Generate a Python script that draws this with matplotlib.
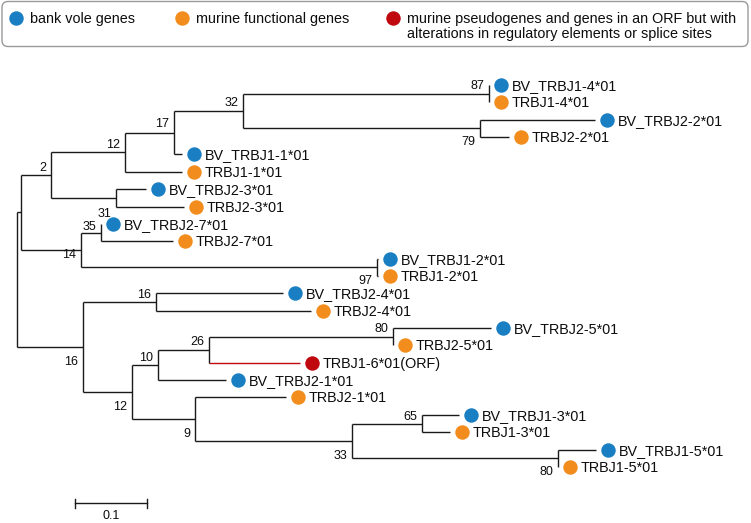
import matplotlib
matplotlib.use("Agg")
import matplotlib.pyplot as plt
from matplotlib.patches import FancyBboxPatch

plt.rcParams['font.family'] = ['Liberation Sans', 'DejaVu Sans']

# ---------------- data ----------------
leaf_names = ["BV_TRBJ1-4*01", "TRBJ1-4*01", "BV_TRBJ2-2*01", "TRBJ2-2*01",
              "BV_TRBJ1-1*01", "TRBJ1-1*01", "BV_TRBJ2-3*01", "TRBJ2-3*01",
              "BV_TRBJ2-7*01", "TRBJ2-7*01", "BV_TRBJ1-2*01", "TRBJ1-2*01",
              "BV_TRBJ2-4*01", "TRBJ2-4*01", "BV_TRBJ2-5*01", "TRBJ2-5*01",
              "TRBJ1-6*01(ORF)", "BV_TRBJ2-1*01", "TRBJ2-1*01",
              "BV_TRBJ1-3*01", "TRBJ1-3*01", "BV_TRBJ1-5*01", "TRBJ1-5*01"]
leaf_groups = ["bv", "mf", "bv", "mf", "bv", "mf", "bv", "mf", "bv", "mf", "bv", "mf",
               "bv", "mf", "bv", "mf", "ps", "bv", "mf", "bv", "mf", "bv", "mf"]

edge_child = ["A", "N2", "N12", "N17", "N32", "N87", "BV_TRBJ1-4*01", "TRBJ1-4*01",
              "N79", "BV_TRBJ2-2*01", "TRBJ2-2*01", "BV_TRBJ1-1*01", "TRBJ1-1*01",
              "N23", "BV_TRBJ2-3*01", "TRBJ2-3*01", "N14", "N27", "BV_TRBJ2-7*01",
              "TRBJ2-7*01", "N97", "BV_TRBJ1-2*01", "TRBJ1-2*01",
              "B", "N24", "BV_TRBJ2-4*01", "TRBJ2-4*01", "C12", "N10", "N26", "N80a",
              "BV_TRBJ2-5*01", "TRBJ2-5*01", "TRBJ1-6*01(ORF)", "BV_TRBJ2-1*01",
              "N9", "TRBJ2-1*01", "N33", "N65", "BV_TRBJ1-3*01", "TRBJ1-3*01",
              "N80b", "BV_TRBJ1-5*01", "TRBJ1-5*01"]
edge_parent = ["root", "A", "N2", "N12", "N17", "N32", "N87", "N87",
               "N32", "N79", "N79", "N17", "N12",
               "N2", "N23", "N23", "A", "N14", "N27",
               "N27", "N14", "N97", "N97",
               "root", "B", "N24", "N24", "B", "C12", "N10", "N26",
               "N80a", "N80a", "N26", "N10",
               "C12", "N9", "N9", "N33", "N65", "N65",
               "N33", "N80b", "N80b"]
edge_length = [0.0056, 0.0417, 0.1028, 0.0681, 0.0958, 0.3417, 0.0, 0.0,
               0.3292, 0.1597, 0.0403, 0.0111, 0.0792,
               0.0903, 0.0417, 0.0944, 0.0833, 0.0278, 0.0,
               0.1000, 0.4111, 0.0014, 0.0014,
               0.0917, 0.1014, 0.1764, 0.2153, 0.0681, 0.0361, 0.0708, 0.2556,
               0.1361, 0.0, 0.1264, 0.0944,
               0.0875, 0.1264, 0.2181, 0.0972, 0.0514, 0.0389,
               0.2861, 0.0528, 0.0]

support_nodes = ["N87", "N79", "N32", "N17", "N12", "N2", "N23", "N27", "N14", "N97",
                 "N24", "B", "N26", "N10", "C12", "N9", "N33", "N80a", "N65", "N80b"]
support_values = [87, 79, 32, 17, 12, 2, 31, 35, 14, 97,
                  16, 16, 26, 10, 12, 9, 33, 80, 65, 80]

legend_labels = ["bank vole genes", "murine functional genes",
                 "murine pseudogenes and genes in an ORF but with\nalterations in regulatory elements or splice sites"]
scale_value = 0.1

# ---------------- style ----------------
support_dy_px = [-7.5, 13.5, -8, -8.5, -7.5, -7, 16, -6, 5, 14,
                 -7.5, 15, -7.5, -7, 15, 15, 15, -7.5, -7, 14]
colors = {"bv": "#1a7fc2", "mf": "#f28c1c", "ps": "#c0090f"}
line_col = "#1a1a1a"
txt_col = "#0d0d0d"
LW = 1.0
W, H = 751, 523
X0, XS = 17.0, 720.0        # pixel of root, pixels per unit branch length
Y0, YS = 85.0, 17.36        # pixel of first leaf, pixels per leaf

fig = plt.figure(figsize=(W / 100, H / 100), dpi=100)
ax = fig.add_axes([0, 0, 1, 1])
ax.set_xlim(-X0 / XS, (W - X0) / XS)
ax.set_ylim((H - Y0) / YS, -Y0 / YS)
ax.axis('off')

def dx(p):
    return p / XS

def dy(p):
    return p / YS

# ---------------- layout ----------------
children = {}
for c, p in zip(edge_child, edge_parent):
    children.setdefault(p, []).append(c)
xpos = {"root": 0.0}
for c, p, L in zip(edge_child, edge_parent, edge_length):
    xpos[c] = xpos[p] + L
ypos = {n: i for i, n in enumerate(leaf_names)}

def get_y(n):
    if n in ypos:
        return ypos[n]
    ys = [get_y(c) for c in children[n]]
    ypos[n] = (min(ys) + max(ys)) / 2
    return ypos[n]

get_y("root")

# horizontal branches
for c, p in zip(edge_child, edge_parent):
    col = colors["ps"] if c == "TRBJ1-6*01(ORF)" else line_col
    ax.plot([xpos[p], xpos[c]], [ypos[c], ypos[c]], color=col, lw=LW,
            solid_capstyle='butt', zorder=2)
# vertical connectors
for n, ch in children.items():
    ys = [ypos[c] for c in ch]
    ax.plot([xpos[n], xpos[n]], [min(ys), max(ys)], color=line_col, lw=LW,
            solid_capstyle='butt', zorder=2)

# leaves
for n, g in zip(leaf_names, leaf_groups):
    ax.plot(xpos[n] + dx(12), ypos[n], 'o', ms=10.4, color=colors[g],
            mec='none', zorder=3)
    ax.text(xpos[n] + dx(23), ypos[n] + dy(5), n, fontsize=10.4,
            ha='left', va='baseline', color=txt_col)

# bootstrap values
for n, v, off in zip(support_nodes, support_values, support_dy_px):
    ax.text(xpos[n] - dx(5), ypos[n] + dy(off), str(v), fontsize=9,
            ha='right', va='center', color=txt_col)

# scale bar
sx0 = dx(75 - X0)
sy = dy(503 - Y0)
ax.plot([sx0, sx0 + scale_value], [sy, sy], color=line_col, lw=LW)
for xx in (sx0, sx0 + scale_value):
    ax.plot([xx, xx], [sy - dy(4.5), sy + dy(4.5)], color=line_col, lw=LW)
ax.text(sx0 + scale_value / 2, dy(516 - Y0), f"{scale_value}", fontsize=9,
        ha='center', va='center', color=txt_col)

# ---------------- legend box (pixel overlay) ----------------
lg = fig.add_axes([0, 0, 1, 1])
lg.set_xlim(0, W)
lg.set_ylim(H, 0)
lg.axis('off')
lg.patch.set_alpha(0)
box = FancyBboxPatch((2, 1.5), 746, 45, boxstyle="round,pad=0,rounding_size=6",
                     fc='white', ec='#9a9a9a', lw=1.0)
lg.add_patch(box)
leg_x = [16, 182, 393]
for (xc, lab, g) in zip(leg_x, legend_labels, ["bv", "mf", "ps"]):
    lg.plot(xc, 18, 'o', ms=10.4, color=colors[g], mec='none')
    lines = lab.split("\n")
    for k, line in enumerate(lines):
        lg.text(xc + 14, 23 + 15 * k, line, fontsize=10.4, ha='left',
                va='baseline', color=txt_col)

fig.savefig("out.png", dpi=100)
